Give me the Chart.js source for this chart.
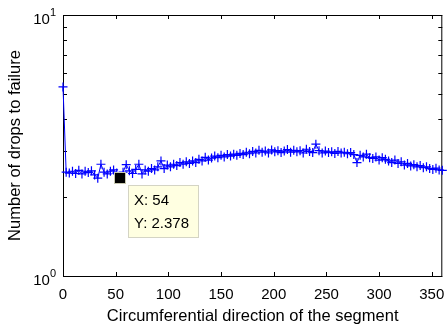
<!DOCTYPE html>
<html>
<head>
<meta charset="utf-8">
<script src="https://cdn.jsdelivr.net/npm/chart.js@4.4.1/dist/chart.umd.min.js"></script>
<style>
  html, body { margin: 0; padding: 0; background: #fff; }
</style>
</head>
<body>
<canvas id="drops" width="448" height="326"></canvas>
<script>
// circumferential position (deg) and drops to failure at each position
const angles = [
  0, 3, 6, 9, 12, 15, 18, 21, 24, 27, 30, 33, 36, 39, 42, 45, 48, 51, 54, 57,
  60, 63, 66, 69, 72, 75, 78, 81, 84, 87, 90, 93, 96, 99, 102, 105, 108, 111, 114, 117,
  120, 123, 126, 129, 132, 135, 138, 141, 144, 147, 150, 153, 156, 159, 162, 165, 168, 171, 174, 177,
  180, 183, 186, 189, 192, 195, 198, 201, 204, 207, 210, 213, 216, 219, 222, 225, 228, 231, 234, 237,
  240, 243, 246, 249, 252, 255, 258, 261, 264, 267, 270, 273, 276, 279, 282, 285, 288, 291, 294, 297,
  300, 303, 306, 309, 312, 315, 318, 321, 324, 327, 330, 333, 336, 339, 342, 345, 348, 351, 354, 357,
  360
];
const drops = [
  5.30, 2.50, 2.48, 2.52, 2.47, 2.54, 2.46, 2.52, 2.49, 2.53, 2.44, 2.37, 2.68, 2.50, 2.46, 2.52, 2.55, 2.48, 2.378, 2.50,
  2.67, 2.53, 2.47, 2.56, 2.68, 2.46, 2.55, 2.52, 2.58, 2.55, 2.62, 2.76, 2.58, 2.66, 2.62, 2.68, 2.65, 2.72, 2.68, 2.74,
  2.70, 2.76, 2.72, 2.80, 2.76, 2.85, 2.78, 2.83, 2.88, 2.84, 2.90, 2.86, 2.92, 2.88, 2.93, 2.90, 2.95, 2.92, 2.98, 2.94,
  3.00, 2.96, 3.03, 2.98, 3.01, 2.96, 3.04, 2.99, 3.02, 2.97, 3.01, 3.05, 2.98, 3.03, 2.99, 3.02, 2.96, 3.06, 3.00, 2.97,
  3.20, 3.02, 2.96, 3.01, 2.97, 2.99, 2.95, 3.00, 2.96, 2.98, 2.94, 2.97, 2.92, 2.72, 2.90, 2.86, 2.93, 2.84, 2.82, 2.86,
  2.78, 2.84, 2.80, 2.76, 2.72, 2.78, 2.70, 2.74, 2.66, 2.70, 2.64, 2.67, 2.62, 2.65, 2.60, 2.62, 2.58, 2.56, 2.59, 2.55,
  2.54
];

const xTicks = [0, 50, 100, 150, 200, 250, 300, 350];
const yTicks = [1, 2, 3, 4, 5, 6, 7, 8, 9, 10];
const yLabelled = [1, 10];

// data cursor placed on one sample
const tipX = 54;
const tipY = 2.378;

const fontFamily = "'Liberation Sans', Arial, Helvetica, sans-serif";

// MATLAB-like box: inward ticks on all four sides, 10^n labels on y
const axesBox = {
  id: 'axesBox',
  beforeDatasetsDraw(chart) {
    const { ctx, chartArea: a, scales: { x, y } } = chart;
    ctx.save();
    ctx.strokeStyle = '#000';
    ctx.lineWidth = 1;
    ctx.beginPath();
    xTicks.forEach(v => {
      const px = Math.round(x.getPixelForValue(v)) + 0.5;
      ctx.moveTo(px, a.bottom); ctx.lineTo(px, a.bottom - 4);
      ctx.moveTo(px, a.top); ctx.lineTo(px, a.top + 4);
    });
    yTicks.forEach(v => {
      const py = Math.round(y.getPixelForValue(v)) + 0.5;
      ctx.moveTo(a.left, py); ctx.lineTo(a.left + 4, py);
      ctx.moveTo(a.right, py); ctx.lineTo(a.right - 4, py);
    });
    ctx.stroke();
    ctx.strokeRect(a.left + 0.5, a.top + 0.5, a.right - a.left - 1, a.bottom - a.top);

    ctx.fillStyle = '#000';
    ctx.textAlign = 'right';
    ctx.textBaseline = 'middle';
    yLabelled.forEach(v => {
      const py = y.getPixelForValue(v);
      const exp = String(Math.round(Math.log10(v)));
      ctx.font = '11px ' + fontFamily;
      const w = ctx.measureText(exp).width;
      ctx.fillText(exp, a.left - 7, py - 2);
      ctx.font = '15px ' + fontFamily;
      ctx.fillText('10', a.left - 7 - w, py + 5);
    });
    ctx.restore();
  }
};

const dataTip = {
  id: 'dataTip',
  afterDraw(chart) {
    const { ctx, scales: { x, y } } = chart;
    const px = x.getPixelForValue(tipX);
    const py = y.getPixelForValue(tipY);
    ctx.save();
    // marker
    ctx.fillStyle = '#c8c8b0';
    ctx.fillRect(Math.round(px) - 6, Math.round(py) - 6, 12, 12);
    ctx.fillStyle = '#000';
    ctx.fillRect(Math.round(px) - 5, Math.round(py) - 5, 10, 10);
    // label box
    const bx = Math.round(px) + 8, by = Math.round(py) + 7;
    ctx.fillStyle = '#ffffe1';
    ctx.fillRect(bx, by, 71, 53);
    ctx.strokeStyle = '#d4d4c4';
    ctx.lineWidth = 1;
    ctx.strokeRect(bx + 0.5, by + 0.5, 70, 52);
    ctx.fillStyle = '#000';
    ctx.font = '15px ' + fontFamily;
    ctx.textAlign = 'left';
    ctx.textBaseline = 'middle';
    ctx.fillText('X: ' + tipX, bx + 6, by + 16);
    ctx.fillText('Y: ' + tipY, bx + 6, by + 39);
    ctx.restore();
  }
};

new Chart(document.getElementById('drops'), {
  type: 'line',
  data: {
    datasets: [{
      data: angles.map((a, i) => ({ x: a, y: drops[i] })),
      borderColor: '#0000ff',
      borderWidth: 1,
      pointStyle: 'cross',
      pointRadius: 4.5,
      pointBorderWidth: 1.2,
      pointBorderColor: '#0000ff',
      pointBackgroundColor: '#0000ff',
      tension: 0,
      fill: false,
      clip: false
    }]
  },
  options: {
    responsive: false,
    animation: false,
    devicePixelRatio: 1,
    events: [],
    layout: { padding: { left: 0, top: 15, right: 2, bottom: 0 } },
    plugins: {
      legend: { display: false },
      tooltip: { enabled: false }
    },
    scales: {
      x: {
        type: 'linear',
        min: 0,
        max: 360,
        afterBuildTicks: s => { s.ticks = xTicks.map(v => ({ value: v })); },
        afterFit: s => {
          s.height = 50;
          s.paddingLeft = 0;
          s.paddingRight = 0;
        },
        grid: { display: false, drawTicks: false },
        border: { display: false },
        ticks: {
          color: '#000',
          padding: 10,
          maxRotation: 0,
          autoSkip: false,
          font: { family: fontFamily, size: 15 }
        },
        title: {
          display: true,
          text: 'Circumferential direction of the segment',
          color: '#000',
          padding: { top: 0, bottom: 1 },
          font: { family: fontFamily, size: 16.5, lineHeight: 1 }
        }
      },
      y: {
        type: 'logarithmic',
        min: 1,
        max: 10,
        afterBuildTicks: s => { s.ticks = yTicks.map(v => ({ value: v })); },
        afterFit: s => {
          s.width = 63;
          s.paddingTop = 0;
          s.paddingBottom = 0;
        },
        grid: { display: false, drawTicks: false },
        border: { display: false },
        ticks: { display: false },
        title: {
          display: true,
          text: 'Number of drops to failure',
          color: '#000',
          padding: { top: 7, bottom: 0 },
          font: { family: fontFamily, size: 16.5, lineHeight: 1 }
        }
      }
    }
  },
  plugins: [axesBox, dataTip]
});
</script>
</body>
</html>
